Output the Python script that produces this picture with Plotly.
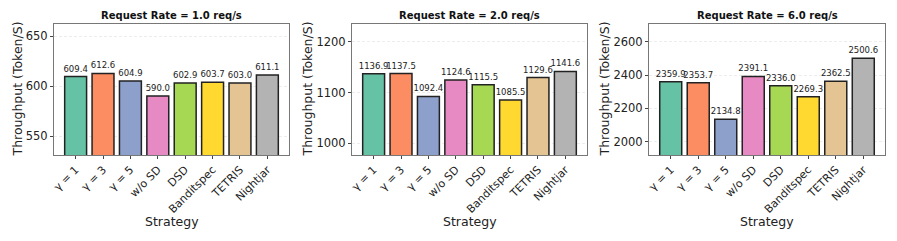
import plotly.graph_objects as go
from plotly.subplots import make_subplots

strategies = ["γ = 1", "γ = 3", "γ = 5", "w/o SD", "DSD", "Banditspec", "TETRIS", "Nightjar"]
titles = ["Request Rate = 1.0 req/s", "Request Rate = 2.0 req/s", "Request Rate = 6.0 req/s"]
rate_1 = [609.4, 612.6, 604.9, 590.0, 602.9, 603.7, 603.0, 611.1]
rate_2 = [1136.9, 1137.5, 1092.4, 1124.6, 1115.5, 1085.5, 1129.6, 1141.6]
rate_6 = [2359.9, 2353.7, 2134.8, 2391.1, 2336.0, 2269.3, 2362.5, 2500.6]
colors = ["#66c2a5", "#fc8d62", "#8da0cb", "#e78ac3", "#a6d854", "#ffd92f", "#e5c494", "#b3b3b3"]
y_ranges = [[531, 662], [977, 1235], [1920, 2706]]
y_ticks = [[550, 600, 650], [1000, 1100, 1200], [2000, 2200, 2400, 2600]]

W, H = 897, 241
x_doms = [(54, 289), (352, 587), (649, 885)]
ytitle_offsets = [37, 45, 45]
y_top, y_bot = 24, 155

fig = make_subplots(rows=1, cols=3)
for i, vals in enumerate([rate_1, rate_2, rate_6]):
    fig.add_trace(go.Bar(
        x=list(range(len(strategies))), y=vals,
        marker=dict(color=colors, line=dict(color="#222222", width=1.5)),
        width=0.8,
        text=[f"{v:.1f}" for v in vals], textposition="outside", constraintext="none",
        textfont=dict(size=8.5, color="#222222", family="DejaVu Sans"),
        cliponaxis=False, showlegend=False, hoverinfo="skip",
    ), row=1, col=i + 1)
    ax = "" if i == 0 else str(i + 1)
    fig.layout["xaxis" + ax].update(
        domain=[x_doms[i][0] / W, x_doms[i][1] / W], automargin=False,
        range=[-0.79, 7.79], tickmode="array", tickvals=list(range(8)), ticktext=strategies,
        tickangle=-45, ticks="outside", ticklen=3, tickcolor="#444", showgrid=False,
        showline=True, linecolor="#777", linewidth=1, mirror=True,
        tickfont=dict(size=11, color="#222"), zeroline=False,
    )
    fig.layout["yaxis" + ax].update(
        domain=[1 - y_bot / H, 1 - y_top / H], automargin=False,
        range=y_ranges[i], tickvals=y_ticks[i], ticks="outside", ticklen=3, tickcolor="#444",
        showgrid=True, gridcolor="#e8e8e8", griddash="3px,2px", gridwidth=0.8,
        showline=True, linecolor="#777", linewidth=1, mirror=True, zeroline=False,
        tickfont=dict(size=11.5, color="#222"),
    )
    fig.add_annotation(
        text=f"<b>{titles[i]}</b>", x=(x_doms[i][0] + x_doms[i][1]) / 2 / W, y=1 - 16 / H,
        xref="paper", yref="paper", showarrow=False, font=dict(size=10, color="#111"),
        xanchor="center", yanchor="middle",
    )
    fig.add_annotation(
        text="Strategy", x=(x_doms[i][0] + x_doms[i][1]) / 2 / W, y=1 - 221 / H,
        xref="paper", yref="paper", showarrow=False, font=dict(size=12.5, color="#222"),
        xanchor="center", yanchor="middle",
    )
    fig.add_annotation(
        text="Throughput (Token/S)", x=(x_doms[i][0] - ytitle_offsets[i]) / W,
        y=1 - (y_top + y_bot) / 2 / H,
        xref="paper", yref="paper", showarrow=False, font=dict(size=12.5, color="#222"),
        xanchor="center", yanchor="middle", textangle=-90,
    )

fig.update_layout(
    width=W, height=H, margin=dict(l=0, r=0, t=0, b=0),
    plot_bgcolor="white", paper_bgcolor="white",
    font=dict(family="DejaVu Sans"), bargap=0.2,
)
fig.write_html("out.html", config={"displayModeBar": False, "staticPlot": True},
               post_script="document.body.style.margin='0';document.body.style.overflow='hidden';")
